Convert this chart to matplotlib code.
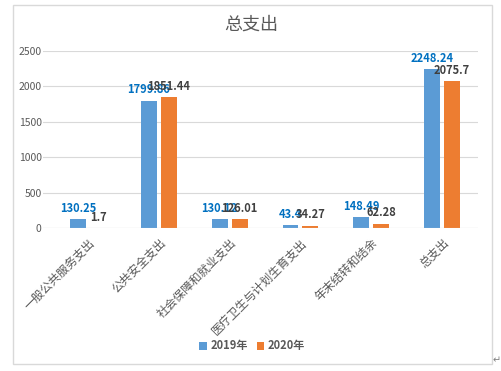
import matplotlib.pyplot as plt
from matplotlib.patches import Rectangle
import numpy as np

plt.rcParams['font.family'] = ['Noto Sans CJK SC', 'DejaVu Sans']

categories = ['一般公共服务支出', '公共安全支出', '社会保障和就业支出',
              '医疗卫生与计划生育支出', '年末结转和结余', '总支出']
v2019 = [130.25, 1799.86, 130.12, 43.4, 148.49, 2248.24]
v2020 = [1.7, 1851.44, 126.01, 34.27, 62.28, 2075.7]
yticks = [0, 500, 1000, 1500, 2000, 2500]

BLUE = '#5B9BD5'
ORANGE = '#ED7D31'
TEXT = '#595959'
GRID = '#D9D9D9'

fig = plt.figure(figsize=(5.02, 3.71), dpi=100)
fig.set_facecolor('white')

# outer chart border
fig.patches.append(Rectangle((13 / 502, 1 - 364 / 371), 479 / 502, 359 / 371,
                             transform=fig.transFigure, fill=False,
                             edgecolor=GRID, linewidth=1))

ax = fig.add_axes([43 / 502, 1 - 228 / 371, 435 / 502, 177 / 371])
x = np.arange(len(categories))
w = 0.225
off = 0.141
b1 = ax.bar(x - off, v2019, w, color=BLUE, label='2019年', zorder=3)
b2 = ax.bar(x + off, v2020, w, color=ORANGE, label='2020年', zorder=3)

for xi, v in zip(x, v2019):
    ax.annotate(f'{v:g}', (xi - off, v), xytext=(0, 3), textcoords='offset points',
                ha='center', va='bottom', fontsize=8, fontweight='bold',
                color='#0070C0', zorder=5)
for xi, v in zip(x, v2020):
    ax.annotate(f'{v:g}', (xi + off, v), xytext=(0, 3), textcoords='offset points',
                ha='center', va='bottom', fontsize=8, fontweight='bold',
                color='#404040', zorder=5)

ax.set_xlim(-0.64, 5.51)
ax.set_ylim(0, 2500)
ax.set_yticks(yticks)
ax.set_yticklabels([str(t) for t in yticks], fontsize=7.5, color=TEXT)
ax.set_xticks(x)
ax.set_xticklabels(categories, rotation=45, ha='right', rotation_mode='anchor',
                   fontsize=8.5, color=TEXT)
ax.tick_params(axis='both', length=0)
ax.tick_params(axis='y', pad=1)
ax.tick_params(axis='x', pad=6)
ax.grid(axis='y', color=GRID, linewidth=0.8, zorder=0)
for s in ax.spines.values():
    s.set_visible(False)
ax.axhline(0, color=GRID, linewidth=0.8, zorder=4)

fig.text(251 / 502, 1 - 25 / 371, '总支出', ha='center', va='center',
         fontsize=13, color=TEXT)

fig.legend(handles=[b1, b2], loc='center', bbox_to_anchor=(252 / 502, 1 - 346 / 371),
           ncol=2, frameon=False, handlelength=0.7, handleheight=0.7,
           handletextpad=0.3, columnspacing=0.8, labelcolor=TEXT,
           prop={'weight': 'bold', 'size': 8})

fig.text(497 / 502, 1 - 360 / 371, '↵', ha='center', va='center',
         fontsize=7, color='#808080', family=['DejaVu Sans'])

fig.savefig('out.png', dpi=100, facecolor='white')
